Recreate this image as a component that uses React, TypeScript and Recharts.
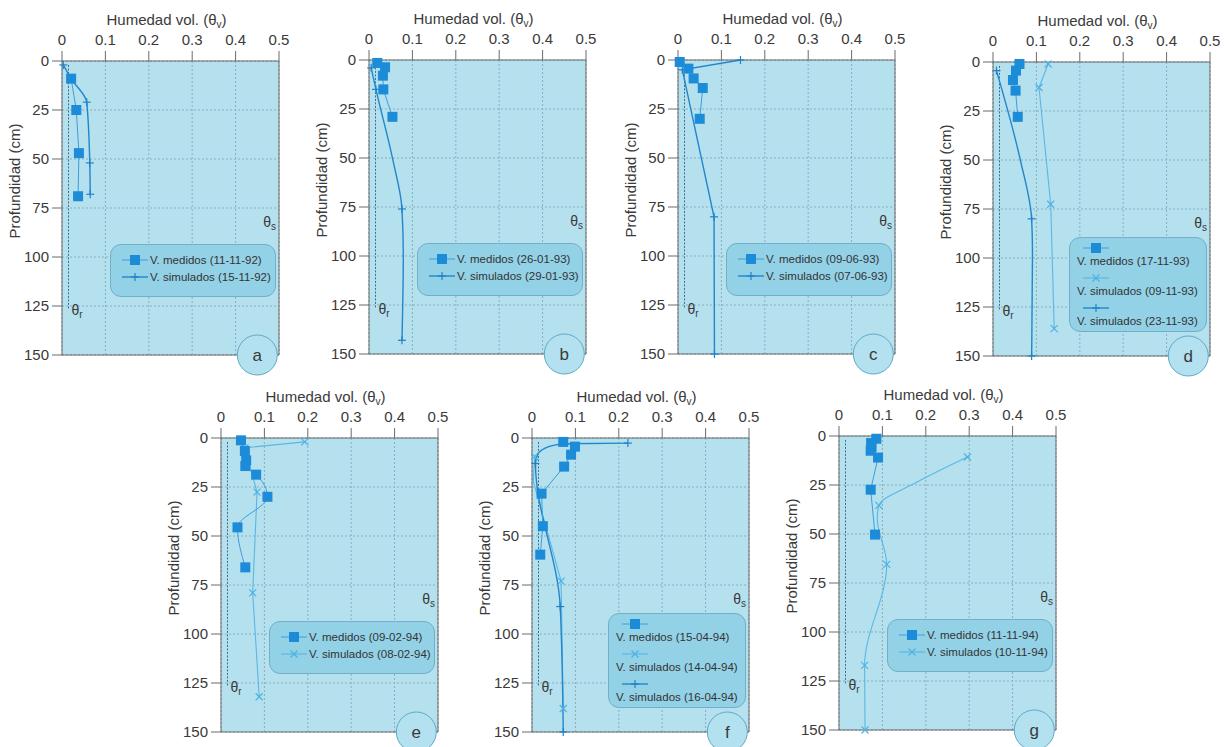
import React from 'react';
import {
  ComposedChart, Line, XAxis, YAxis, CartesianGrid,
  ReferenceLine, ReferenceDot, Legend,
} from 'recharts';

// depth (cm) / volumetric moisture; k = curve knot without marker
const depthTicks = [0, 25, 50, 75, 100, 125, 150];
const thetaTicks = [0, 0.1, 0.2, 0.3, 0.4, 0.5];
const thetaR = 0.015;
const thetaRTop = 2;
const thetaRBottom = 127;
const thetaSDepth = 82;

const medA = [{ d: 9, v: 0.021 }, { d: 25, v: 0.033 }, { d: 47, v: 0.039 }, { d: 69, v: 0.037 }];
const simA = [{ d: 2, v: 0.003 }, { d: 9, v: 0.021 }, { d: 21, v: 0.057 }, { d: 52, v: 0.064 }, { d: 68, v: 0.065 }];

const medB = [{ d: 1.5, v: 0.019 }, { d: 3.7, v: 0.037 }, { d: 8, v: 0.032 }, { d: 15, v: 0.033 }, { d: 29, v: 0.054 }];
const simB = [{ d: 4, v: 0.005 }, { d: 15, v: 0.016 }, { d: 51, v: 0.055, k: 1 }, { d: 76, v: 0.076 }, { d: 100, v: 0.079, k: 1 }, { d: 143, v: 0.076 }];

const medC = [{ d: 1, v: 0.004 }, { d: 4.4, v: 0.024 }, { d: 9.4, v: 0.036 }, { d: 14.3, v: 0.057 }, { d: 30, v: 0.05 }];
const simC = [{ d: 0, v: 0.144 }, { d: 5, v: 0.01 }, { d: 80, v: 0.083 }, { d: 150, v: 0.084 }];

const medD = [{ d: 1, v: 0.061 }, { d: 4.4, v: 0.053 }, { d: 9.2, v: 0.046 }, { d: 14.6, v: 0.052 }, { d: 28, v: 0.057 }];
const simD1 = [{ d: 1, v: 0.127 }, { d: 13, v: 0.106 }, { d: 72.6, v: 0.133 }, { d: 136, v: 0.141 }];
const simD2 = [{ d: 4.4, v: 0.008 }, { d: 50, v: 0.063, k: 1 }, { d: 80, v: 0.089 }, { d: 98, v: 0.091, k: 1 }, { d: 150, v: 0.089 }];

const medE = [
  { d: 1.2, v: 0.046 }, { d: 6.6, v: 0.055 }, { d: 11.4, v: 0.058 }, { d: 14.3, v: 0.056 },
  { d: 18.7, v: 0.081 }, { d: 30, v: 0.107 }, { d: 45.6, v: 0.038 }, { d: 66, v: 0.056 },
];
const simE = [{ d: 2, v: 0.193 }, { d: 5, v: 0.055 }, { d: 27.6, v: 0.083 }, { d: 79, v: 0.073 }, { d: 132, v: 0.088 }];

const medF = [
  { d: 2, v: 0.072 }, { d: 4.4, v: 0.099 }, { d: 8.5, v: 0.09 }, { d: 14.6, v: 0.074 },
  { d: 28.4, v: 0.022 }, { d: 45, v: 0.025 }, { d: 59.5, v: 0.019 },
];
const simF1 = [{ d: 9.4, v: 0.006 }, { d: 22, v: 0.003, k: 1 }, { d: 73, v: 0.067 }, { d: 138, v: 0.072 }];
const simF2 = [
  { d: 2.6, v: 0.221 }, { d: 2.9, v: 0.075, k: 1 }, { d: 4.3, v: 0.04, k: 1 }, { d: 8.5, v: 0.013, k: 1 },
  { d: 13, v: 0.008 }, { d: 86, v: 0.065 }, { d: 150, v: 0.072 },
];

const medG = [
  { d: 1.4, v: 0.086 }, { d: 3.6, v: 0.074 }, { d: 5.6, v: 0.075 }, { d: 7.5, v: 0.073 },
  { d: 11, v: 0.09 }, { d: 27.4, v: 0.073 }, { d: 50.3, v: 0.083 },
];
const simG = [
  { d: 10.7, v: 0.296 }, { d: 23.5, v: 0.18, k: 1 }, { d: 35.4, v: 0.092 }, { d: 42, v: 0.088, k: 1 },
  { d: 65.5, v: 0.11 }, { d: 117, v: 0.059 }, { d: 150, v: 0.06 },
];

const FONT = '"Liberation Sans", Arial, Helvetica, sans-serif';
const TXT = '#3a3a3a';
const PLOT_W = 217;
const PLOT_H = 294;
const AX_L = 62;
const AX_T = 60;

const STYLE: Record<string, { stroke: string; width: number }> = {
  sq: { stroke: '#3d9edd', width: 1 },
  plus: { stroke: '#2186cc', width: 1.4 },
  x: { stroke: '#5ab7e4', width: 1.1 },
};

const Marker = ({ kind, x, y }: { kind: string; x: number; y: number }) => {
  if (kind === 'sq') return <rect x={x - 5} y={y - 5} width={10} height={10} fill="#1c8bd8" />;
  if (kind === 'plus') {
    return (
      <g stroke="#1f82c8" strokeWidth={1.2}>
        <line x1={x - 4} y1={y} x2={x + 4} y2={y} />
        <line x1={x} y1={y - 4} x2={x} y2={y + 4} />
      </g>
    );
  }
  return (
    <g stroke="#4fb2e3" strokeWidth={1.2}>
      <line x1={x - 3.5} y1={y - 3.5} x2={x + 3.5} y2={y + 3.5} />
      <line x1={x - 3.5} y1={y + 3.5} x2={x + 3.5} y2={y - 3.5} />
    </g>
  );
};

const makeDot = (kind: string) => (p: any) => {
  const { cx, cy, payload, index } = p;
  if (payload?.k || cx == null || cy == null) return <g key={`k${index}`} />;
  return <g key={`m${index}`}><Marker kind={kind} x={cx} y={cy} /></g>;
};

const XTitle = (props: any) => {
  const vb = props.viewBox || { x: AX_L, y: 0, width: PLOT_W };
  return (
    <text x={vb.x + vb.width / 2 - 4} y={vb.y + 24} textAnchor="middle" fontSize={15} fill={TXT} fontFamily={FONT}>
      Humedad vol. (θ<tspan fontSize={10} dy={3}>v</tspan><tspan dy={-3}>)</tspan>
    </text>
  );
};

const YTitle = (props: any) => {
  const vb = props.viewBox || { x: 0, y: AX_T };
  const cx = vb.x + 14;
  const cy = vb.y + 120;
  return (
    <text x={cx} y={cy} transform={`rotate(-90 ${cx} ${cy})`} textAnchor="middle" dominantBaseline="central"
      fontSize={15} fill={TXT} fontFamily={FONT}>
      Profundidad (cm)
    </text>
  );
};

interface Series { name: string; data: any[]; kind: string; curve: 'linear' | 'monotone' }

const LegendBox = ({ series, stacked }: { series: Series[]; stacked: boolean }) => (
  <div style={{
    position: 'relative', width: stacked ? 136 : 164, height: stacked ? 93 : 51,
    background: '#93d1e7', border: '1px solid #72afc8', borderRadius: 11,
    fontFamily: FONT, fontSize: 11.5, color: '#333',
  }}>
    {series.map((s, i) => {
      const sy = stacked ? 10 + i * 30 : 15 + i * 17;
      const sx = stacked ? 13 : 11;
      return (
        <React.Fragment key={i}>
          <svg width={26} height={12} style={{ position: 'absolute', left: sx, top: sy - 6 }}>
            <line x1={0} y1={6} x2={26} y2={6} stroke={STYLE[s.kind].stroke} strokeWidth={STYLE[s.kind].width} />
            <Marker kind={s.kind} x={13} y={6} />
          </svg>
          <div style={{
            position: 'absolute', whiteSpace: 'nowrap', lineHeight: '14px',
            left: stacked ? 7 : 39, top: stacked ? sy + 6 : sy - 7,
          }}>{s.name}</div>
        </React.Fragment>
      );
    })}
  </div>
);

const Panel = ({ left, top, letter, series }: { left: number; top: number; letter: string; series: Series[] }) => {
  const stacked = series.length > 2;
  const ordered = [...series.slice(1), series[0]];
  return (
    <div style={{ position: 'absolute', left: left - AX_L, top: top - AX_T }}>
      <ComposedChart layout="vertical" width={AX_L + PLOT_W + 12} height={AX_T + PLOT_H + 26}
        margin={{ top: 0, right: 12, bottom: 26, left: 0 }}>
        <CartesianGrid fill="#b5e0ee" stroke="#88afc0" strokeDasharray="2 2" />
        <XAxis type="number" orientation="top" domain={[0, 0.5]} ticks={thetaTicks} height={AX_T}
          tick={{ fontSize: 15, fill: TXT, fontFamily: FONT }} tickSize={10} tickMargin={6}
          axisLine={{ stroke: '#6b6b6b' }} tickLine={{ stroke: '#6b6b6b' }} label={{ content: XTitle }} />
        <YAxis type="number" dataKey="d" domain={[0, 150]} ticks={depthTicks} width={AX_L}
          tick={{ fontSize: 15, fill: TXT, fontFamily: FONT }} tickSize={10} tickMargin={3}
          axisLine={{ stroke: '#6b6b6b' }} tickLine={{ stroke: '#6b6b6b' }} label={{ content: YTitle }} />
        <ReferenceLine x={0.5} stroke="#6b6b6b" ifOverflow="visible" />
        <ReferenceLine y={150} stroke="#6b6b6b" ifOverflow="visible" />
        <ReferenceLine segment={[{ x: thetaR, y: thetaRTop }, { x: thetaR, y: thetaRBottom }]}
          stroke="#3b6f8c" strokeDasharray="2 1.5" ifOverflow="visible" />
        <ReferenceDot x={thetaR} y={thetaRBottom} ifOverflow="visible" shape={(p: any) => (
          <text x={p.cx + 3} y={p.cy + 5} fontSize={14} fill={TXT} fontFamily={FONT}>
            θ<tspan fontSize={10} dy={3}>r</tspan>
          </text>
        )} />
        <ReferenceDot x={0.5} y={thetaSDepth} ifOverflow="visible" shape={(p: any) => (
          <text x={p.cx - 3} y={p.cy + 5} textAnchor="end" fontSize={14} fill={TXT} fontFamily={FONT}>
            θ<tspan fontSize={10} dy={3}>s</tspan>
          </text>
        )} />
        {ordered.map((s, i) => (
          <Line key={i} data={s.data} dataKey="v" name={s.name} type={s.curve}
            stroke={STYLE[s.kind].stroke} strokeWidth={STYLE[s.kind].width}
            dot={makeDot(s.kind)} activeDot={false} isAnimationActive={false} legendType="none" />
        ))}
        <ReferenceDot x={0.45} y={150} ifOverflow="visible" shape={(p: any) => (
          <g>
            <circle cx={p.cx} cy={p.cy} r={20} fill="#b3e1f0" stroke="#5fa9c6" strokeWidth={1} />
            <text x={p.cx} y={p.cy + 6} textAnchor="middle" fontSize={17} fill={TXT} fontFamily={FONT}>{letter}</text>
          </g>
        )} />
        <Legend layout="horizontal" verticalAlign="middle" align="center"
          wrapperStyle={{ left: AX_L + (stacked ? 76 : 48), top: AX_T + (stacked ? 175 : 183) }}
          content={() => <LegendBox series={series} stacked={stacked} />} />
      </ComposedChart>
    </div>
  );
};

export default function App() {
  return (
    <div style={{ position: 'absolute', left: 0, top: 0, width: 1228, height: 747, background: '#fff' }}>
      <Panel left={62} top={61} letter="a" series={[
        { name: 'V. medidos (11-11-92)', data: medA, kind: 'sq', curve: 'linear' },
        { name: 'V. simulados (15-11-92)', data: simA, kind: 'plus', curve: 'monotone' },
      ]} />
      <Panel left={369} top={60} letter="b" series={[
        { name: 'V. medidos (26-01-93)', data: medB, kind: 'sq', curve: 'linear' },
        { name: 'V. simulados (29-01-93)', data: simB, kind: 'plus', curve: 'monotone' },
      ]} />
      <Panel left={678} top={60} letter="c" series={[
        { name: 'V. medidos (09-06-93)', data: medC, kind: 'sq', curve: 'linear' },
        { name: 'V. simulados (07-06-93)', data: simC, kind: 'plus', curve: 'linear' },
      ]} />
      <Panel left={993} top={62} letter="d" series={[
        { name: 'V. medidos (17-11-93)', data: medD, kind: 'sq', curve: 'linear' },
        { name: 'V. simulados (09-11-93)', data: simD1, kind: 'x', curve: 'linear' },
        { name: 'V. simulados (23-11-93)', data: simD2, kind: 'plus', curve: 'monotone' },
      ]} />
      <Panel left={221} top={438} letter="e" series={[
        { name: 'V. medidos (09-02-94)', data: medE, kind: 'sq', curve: 'monotone' },
        { name: 'V. simulados (08-02-94)', data: simE, kind: 'x', curve: 'linear' },
      ]} />
      <Panel left={532} top={438} letter="f" series={[
        { name: 'V. medidos (15-04-94)', data: medF, kind: 'sq', curve: 'linear' },
        { name: 'V. simulados (14-04-94)', data: simF1, kind: 'x', curve: 'linear' },
        { name: 'V. simulados (16-04-94)', data: simF2, kind: 'plus', curve: 'monotone' },
      ]} />
      <Panel left={839} top={436} letter="g" series={[
        { name: 'V. medidos (11-11-94)', data: medG, kind: 'sq', curve: 'linear' },
        { name: 'V. simulados (10-11-94)', data: simG, kind: 'x', curve: 'monotone' },
      ]} />
    </div>
  );
}
